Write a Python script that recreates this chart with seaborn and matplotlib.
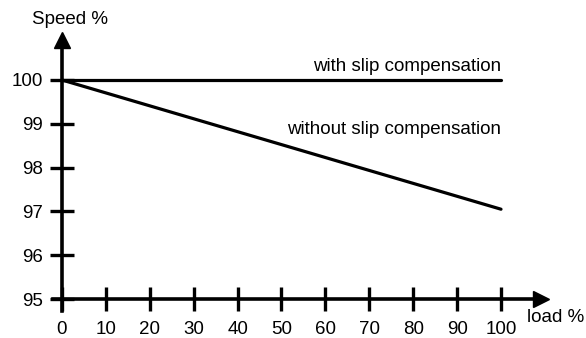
import matplotlib
matplotlib.use("Agg")
import matplotlib.pyplot as plt
import seaborn as sns
import pandas as pd

# Data
load = [0, 100]
speed_with = [100, 100]
speed_without = [100, 97.05]
x_ticks = [0, 10, 20, 30, 40, 50, 60, 70, 80, 90, 100]
y_ticks = [95, 96, 97, 98, 99, 100]
label_with = "with slip compensation"
label_without = "without slip compensation"

sns.set_theme(style="white")
plt.rcParams['font.family'] = ['Liberation Sans', 'DejaVu Sans']

W, H = 586, 338
fig = plt.figure(figsize=(W / 100, H / 100), dpi=100)
ax = fig.add_axes([0, 0, 1, 1])
ax.set_facecolor('white')

# pixel mapping: x=0 -> 62px, x=100 -> 501px ; y=100 -> 80px, y=95 -> 299px
pxx = (501 - 62) / 100.0
pxy = (299 - 80) / 5.0
ax.set_xlim(0 - 62 / pxx, 100 + (W - 501) / pxx)
ax.set_ylim(95 - (H - 299) / pxy, 100 + 80 / pxy)

df = pd.DataFrame({"load": load * 2,
                   "speed": speed_with + speed_without,
                   "curve": [label_with] * 2 + [label_without] * 2})
sns.lineplot(data=df, x="load", y="speed", hue="curve",
             palette=["black", "black"], linewidth=2.3, legend=False, ax=ax)

# axes as arrows
y_top = 100 + (80 - 33) / pxy
x_right = (550 - 62) / pxx
for s in ['top', 'right']:
    ax.spines[s].set_visible(False)
ax.spines['left'].set_position(('data', 0))
ax.spines['bottom'].set_position(('data', 95))
ax.spines['left'].set_bounds(95 - 12 / pxy, y_top - 0.15)
ax.spines['bottom'].set_bounds(0 - 9 / pxx, x_right - 2)
for s in ['left', 'bottom']:
    ax.spines[s].set_linewidth(2.6)
    ax.spines[s].set_color('black')
ax.plot([0], [y_top - 0.15], marker='^', markersize=12, color='black', clip_on=False)
ax.plot([x_right - 2], [95], marker='>', markersize=12, color='black', clip_on=False)

ax.set_xticks(x_ticks)
ax.set_yticks(y_ticks)
ax.set_xticklabels([str(v) for v in x_ticks])
ax.set_yticklabels([str(v) for v in y_ticks])
ax.tick_params(axis='both', which='major', bottom=True, left=True,
               direction='inout', length=17, width=2.4, color='black',
               labelsize=13.5, labelcolor='black')
ax.tick_params(axis='y', pad=5)
ax.tick_params(axis='x', pad=7)
ax.set_xlabel("")
ax.set_ylabel("")

fs = 13.5
ax.text((70 - 62) / pxx, 100 + (80 - 20) / pxy, "Speed %", ha='center', va='center',
        fontsize=fs, color='black')
ax.text((556 - 62) / pxx, 95 - (317 - 299) / pxy, "load %", ha='center', va='center',
        fontsize=fs, color='black')
ax.text(100, 100 + (80 - 67) / pxy, label_with, ha='right', va='center',
        fontsize=fs, color='black')
ax.text(100, 100 - (130 - 80) / pxy, label_without, ha='right', va='center',
        fontsize=fs, color='black')

fig.savefig("out.png", dpi=100, facecolor='white')
